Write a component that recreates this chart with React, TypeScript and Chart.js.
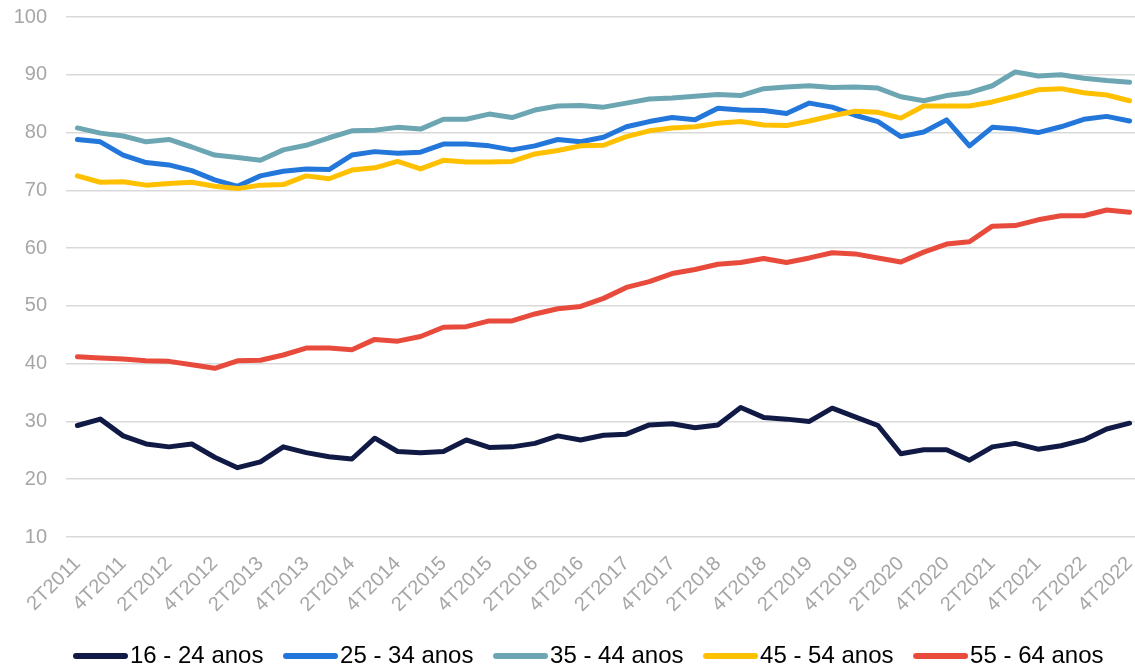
import React, { useEffect, useRef } from "react";
import { Chart, registerables } from "chart.js";

Chart.register(...registerables);

const quarters = [
  "2T2011", "3T2011", "4T2011",
  "1T2012", "2T2012", "3T2012", "4T2012",
  "1T2013", "2T2013", "3T2013", "4T2013",
  "1T2014", "2T2014", "3T2014", "4T2014",
  "1T2015", "2T2015", "3T2015", "4T2015",
  "1T2016", "2T2016", "3T2016", "4T2016",
  "1T2017", "2T2017", "3T2017", "4T2017",
  "1T2018", "2T2018", "3T2018", "4T2018",
  "1T2019", "2T2019", "3T2019", "4T2019",
  "1T2020", "2T2020", "3T2020", "4T2020",
  "1T2021", "2T2021", "3T2021", "4T2021",
  "1T2022", "2T2022", "3T2022", "4T2022",
];

const seriesNames = ["16 - 24 anos", "25 - 34 anos", "35 - 44 anos", "45 - 54 anos", "55 - 64 anos"];
const seriesColors = ["#101A45", "#2477DA", "#6CA6B3", "#FFC000", "#E84B3C"];

const s16_24 = [
  29.3, 30.4, 27.5, 26.1, 25.6, 26.1, 23.8, 22.0, 23.0, 25.6,
  24.6, 23.9, 23.5, 27.1, 24.8, 24.6, 24.8, 26.8, 25.5, 25.6,
  26.2, 27.5, 26.8, 27.6, 27.8, 29.4, 29.6, 28.9, 29.4, 32.4,
  30.7, 30.4, 30.0, 32.3, 30.8, 29.3, 24.4, 25.1, 25.1, 23.3,
  25.6, 26.2, 25.2, 25.8, 26.8, 28.7, 29.7,
];
const s25_34 = [
  78.8, 78.4, 76.1, 74.8, 74.4, 73.4, 71.8, 70.7, 72.5, 73.3,
  73.7, 73.6, 76.1, 76.7, 76.4, 76.6, 78.0, 78.0, 77.7, 77.0,
  77.7, 78.8, 78.4, 79.2, 81.0, 81.9, 82.6, 82.2, 84.2, 83.9,
  83.8, 83.3, 85.1, 84.4, 83.0, 81.9, 79.3, 80.1, 82.2, 77.7,
  80.9, 80.6, 80.0, 81.0, 82.3, 82.8, 82.0,
];
const s35_44 = [
  80.8, 79.9, 79.4, 78.4, 78.8, 77.5, 76.1, 75.7, 75.2, 77.0,
  77.8, 79.1, 80.3, 80.4, 80.9, 80.6, 82.3, 82.3, 83.2, 82.6,
  83.9, 84.6, 84.7, 84.4, 85.1, 85.8, 86.0, 86.3, 86.6, 86.4,
  87.6, 87.9, 88.1, 87.8, 87.9, 87.7, 86.2, 85.5, 86.4, 86.9,
  88.1, 90.5, 89.8, 90.0, 89.4, 89.0, 88.7,
];
const s45_54 = [
  72.5, 71.4, 71.5, 70.9, 71.2, 71.4, 70.7, 70.3, 70.9, 71.0,
  72.5, 72.0, 73.5, 73.9, 75.0, 73.7, 75.2, 74.9, 74.9, 75.0,
  76.3, 76.9, 77.7, 77.8, 79.3, 80.3, 80.8, 81.0, 81.6, 81.9,
  81.3, 81.2, 82.0, 82.9, 83.7, 83.5, 82.5, 84.6, 84.6, 84.6,
  85.3, 86.3, 87.4, 87.6, 86.9, 86.5, 85.5,
];
const s55_64 = [
  41.2, 41.0, 40.8, 40.5, 40.4, 39.8, 39.2, 40.5, 40.6, 41.5,
  42.7, 42.7, 42.4, 44.2, 43.9, 44.7, 46.3, 46.4, 47.4, 47.4,
  48.6, 49.5, 49.9, 51.3, 53.2, 54.2, 55.6, 56.3, 57.2, 57.5,
  58.2, 57.5, 58.3, 59.2, 59.0, 58.3, 57.6, 59.3, 60.7, 61.1,
  63.8, 63.9, 64.9, 65.6, 65.6, 66.6, 66.2,
];

const seriesValues = [s16_24, s25_34, s35_44, s45_54, s55_64];

const yMin = 10;
const yMax = 100;
const yStep = 10;

const FONT = "'Liberation Sans', Arial, sans-serif";

function makeLegendLine(color: string): HTMLCanvasElement {
  const c = document.createElement("canvas");
  c.width = 65;
  c.height = 8;
  const g = c.getContext("2d")!;
  g.strokeStyle = color;
  g.lineWidth = 6;
  g.lineCap = "round";
  g.beginPath();
  g.moveTo(13, 4);
  g.lineTo(62, 4);
  g.stroke();
  return c;
}

// moves the legend row so it starts a little right of the y-axis labels
const legendOffset = {
  id: "legendOffset",
  afterLayout(chart: any) {
    if (chart.legend) chart.legend.left = 53.4;
  },
};

export default function App() {
  const canvasRef = useRef<HTMLCanvasElement | null>(null);

  useEffect(() => {
    if (!canvasRef.current) return;
    const swatches = seriesColors.map(makeLegendLine);
    const chart = new Chart(canvasRef.current, {
      type: "line",
      data: {
        labels: quarters,
        datasets: seriesValues.map((vals, i) => ({
          label: seriesNames[i],
          data: vals,
          borderColor: seriesColors[i],
          backgroundColor: seriesColors[i],
          borderWidth: 5,
          pointRadius: 0,
          pointHoverRadius: 0,
          tension: 0,
          fill: false,
          borderCapStyle: "round" as const,
          borderJoinStyle: "round" as const,
          order: seriesValues.length - i,
        })),
      },
      plugins: [legendOffset],
      options: {
        animation: false,
        responsive: true,
        maintainAspectRatio: false,
        layout: { padding: { top: 17, left: 0, right: 0, bottom: 0 } },
        plugins: {
          tooltip: { enabled: false },
          legend: {
            position: "bottom",
            align: "start",
            labels: {
              usePointStyle: true,
              pointStyleWidth: 45,
              boxHeight: 6,
              padding: 19.6,
              color: "#000000",
              font: { family: FONT, size: 24 },
              sort: (a: any, b: any) => a.datasetIndex - b.datasetIndex,
              generateLabels: (c: any) =>
                Chart.defaults.plugins.legend.labels
                  .generateLabels(c)
                  .map((l: any) => ({ ...l, lineWidth: 0, pointStyle: swatches[l.datasetIndex] })),
            },
          },
        },
        scales: {
          x: {
            offset: true,
            grid: { display: false, drawTicks: false },
            border: { display: false },
            ticks: {
              autoSkip: false,
              maxRotation: 45,
              minRotation: 45,
              padding: 15,
              color: "#A6A6A6",
              font: { family: FONT, size: 20 },
              callback: (_v: any, idx: number) => (idx % 2 === 0 ? quarters[idx] : ""),
            },
            afterFit: (axis: any) => {
              axis.height = 87.4;
              axis.paddingLeft = 0;
              axis.paddingRight = 0;
            },
          },
          y: {
            min: yMin,
            max: yMax,
            grid: { color: "#D9D9D9", lineWidth: 1.5, drawTicks: false },
            border: { display: false },
            ticks: {
              stepSize: yStep,
              padding: 19,
              color: "#A6A6A6",
              font: { family: FONT, size: 20 },
            },
            afterFit: (axis: any) => {
              axis.width = 66;
              axis.paddingTop = 0;
              axis.paddingBottom = 0;
            },
          },
        },
      },
    });
    return () => chart.destroy();
  }, []);

  return (
    <div style={{ position: "fixed", left: 0, top: 0, width: 1141, height: 678, background: "#fff" }}>
      <canvas ref={canvasRef} />
    </div>
  );
}
